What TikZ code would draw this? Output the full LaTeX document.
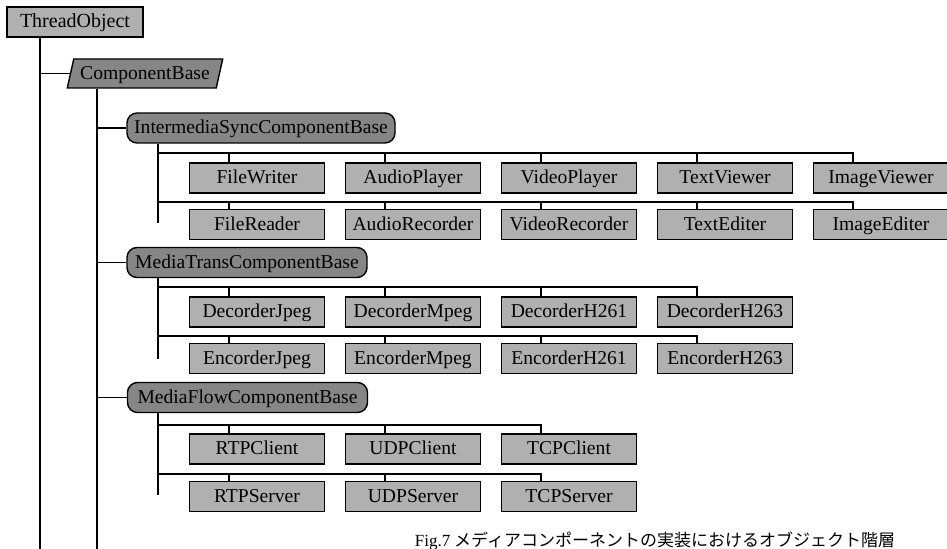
\documentclass[tikz,border=0pt]{standalone}
\usepackage{fontspec}
\setmainfont{Liberation Serif}
\newfontfamily\jpfont{Noto Sans CJK JP}
\usetikzlibrary{positioning,shapes.geometric,calc}

\tikzset{
  link/.style={draw=black, line width=0.8pt},
  leafbox/.style={draw=black, line width=0.7pt, fill=gray!62, minimum width=67.5pt,
    minimum height=15pt, inner sep=0pt, text height=1.55ex, text depth=0.3ex,
    font=\fontsize{9.8}{10}\selectfont},
  basebox/.style={draw=black, line width=0.7pt, fill=gray!95, rounded corners=5pt,
    minimum height=15pt, inner sep=0pt, text height=1.55ex, text depth=0.3ex,
    font=\fontsize{9.8}{10}\selectfont},
  rootbox/.style={leafbox, minimum width=68pt, font=\fontsize{10}{11}\selectfont},
  compbox/.style={trapezium, trapezium left angle=71, trapezium right angle=109,
    trapezium stretches=true, draw=black, line width=0.7pt, fill=gray!95,
    minimum width=78pt, minimum height=14.5pt, inner sep=0pt,
    text height=1.55ex, text depth=0.3ex, font=\fontsize{9.8}{10}\selectfont}
}

\begin{document}
\begin{tikzpicture}[x=0.5pt,y=-0.5pt]
  \useasboundingbox (0,0) rectangle (947,549);
  \clip (0,0) rectangle (947,549);

  % root and abstract bases
  \node[rootbox] (thread) at (75,22) {ThreadObject};
  \node[compbox] (comp) at (145,73.5) {ComponentBase};
  \node[basebox, minimum width=134pt] (isync) at (261,128) {IntermediaSyncComponentBase};
  \node[basebox, minimum width=120pt] (mtrans) at (247,262.5) {MediaTransComponentBase};
  \node[basebox, minimum width=120pt] (mflow) at (247.5,397.5) {MediaFlowComponentBase};

  % leaf classes
  \foreach \n/\x/\t in {fw/257/FileWriter, ap/413/AudioPlayer, vp/569/VideoPlayer,
      tv/725/TextViewer, iv/881/ImageViewer}
    \node[leafbox] (\n) at (\x,178) {\t};
  \foreach \n/\x/\t in {fr/257/FileReader, ar/413/AudioRecorder, vr/569/VideoRecorder,
      te/725/TextEditer, ie/881/ImageEditer}
    \node[leafbox] (\n) at (\x,224.5) {\t};
  \foreach \n/\x/\t in {dj/257/DecorderJpeg, dm/413/DecorderMpeg, da/569/DecorderH261,
      db/725/DecorderH263}
    \node[leafbox] (\n) at (\x,312) {\t};
  \foreach \n/\x/\t in {ej/257/EncorderJpeg, em/413/EncorderMpeg, ea/569/EncorderH261,
      eb/725/EncorderH263}
    \node[leafbox] (\n) at (\x,358.5) {\t};
  \foreach \n/\x/\t in {rc/257/RTPClient, uc/413/UDPClient, tc/569/TCPClient}
    \node[leafbox] (\n) at (\x,449) {\t};
  \foreach \n/\x/\t in {rs/257/RTPServer, us/413/UDPServer, ts/569/TCPServer}
    \node[leafbox] (\n) at (\x,496.5) {\t};

  % trunks
  \coordinate (threadend) at (40,549);
  \coordinate (compend) at (97,549);
  \coordinate (isyncend) at (158,223);
  \coordinate (mtransend) at (158,359);
  \coordinate (mflowend) at (158,495);
  \draw[link] (threadend |- thread.south) -- (threadend);
  \draw[link] (threadend |- comp.west) -- (comp.west);
  \draw[link] (compend |- comp.south) -- (compend);
  \foreach \b in {isync,mtrans,mflow}
    \draw[link] (compend |- \b.west) -- (\b.west);
  \draw[link] (isyncend |- isync.south) -- (isyncend);
  \draw[link] (mtransend |- mtrans.south) -- (mtransend);
  \draw[link] (mflowend |- mflow.south) -- (mflowend);

  % buses
  \coordinate (bus1) at (158,153);
  \coordinate (bus2) at (158,202);
  \coordinate (bus3) at (158,287);
  \coordinate (bus4) at (158,336);
  \coordinate (bus5) at (158,425);
  \coordinate (bus6) at (158,474);
  \foreach \n in {fw,ap,vp,tv,iv} \draw[link] (bus1) -| ([xshift=-14pt]\n.north);
  \foreach \n in {fr,ar,vr,te,ie} \draw[link] (bus2) -| ([xshift=-14pt]\n.north);
  \foreach \n in {dj,dm,da,db} \draw[link] (bus3) -| ([xshift=-14pt]\n.north);
  \foreach \n in {ej,em,ea,eb} \draw[link] (bus4) -| ([xshift=-14pt]\n.north);
  \foreach \n in {rc,uc,tc} \draw[link] (bus5) -| ([xshift=-14pt]\n.north);
  \foreach \n in {rs,us,ts} \draw[link] (bus6) -| ([xshift=-14pt]\n.north);

  \node[font=\jpfont\fontsize{8.5}{10}\selectfont] (caption) at (655,541)
    {{\rmfamily Fig.7} メディアコンポーネントの実装におけるオブジェクト階層};
\end{tikzpicture}
\end{document}
